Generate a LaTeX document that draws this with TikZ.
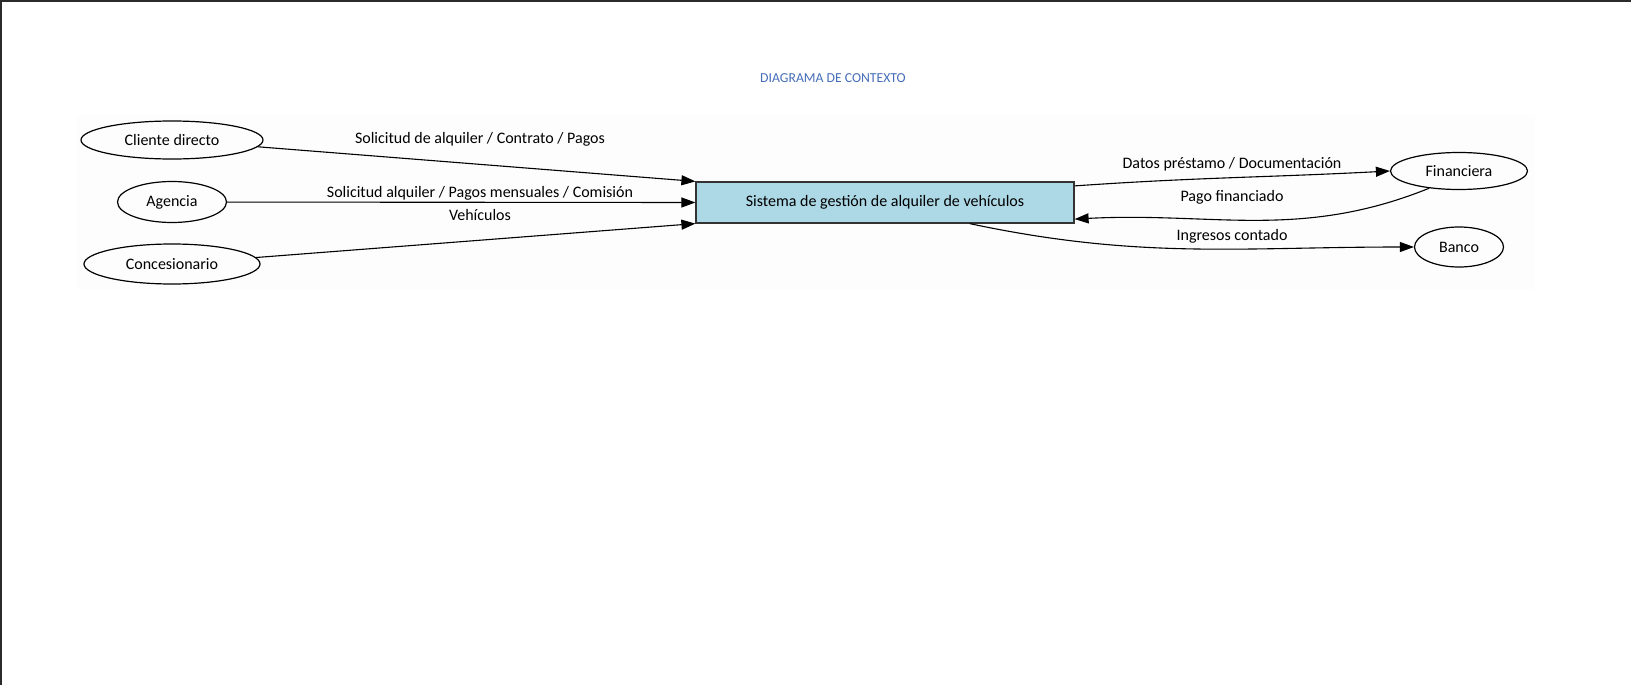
\documentclass[tikz,border=0pt]{standalone}
\usepackage{fontspec}
\setmainfont{Carlito}
\usetikzlibrary{shapes.geometric}
\usetikzlibrary{arrows.meta}

\definecolor{azultitulo}{RGB}{70,110,185}
\definecolor{azulcaja}{RGB}{173,216,230}

\begin{document}
\begin{tikzpicture}[x=1pt, y=-1pt,
    every node/.style={font=\fontsize{16}{19}\selectfont},
    entidad/.style={draw, ellipse, line width=1.2pt, inner sep=0pt},
    sistema/.style={draw=black!80, fill=azulcaja, line width=1.2pt, minimum width=378pt, minimum height=41pt},
    flujo/.style={-{Triangle[length=14pt,width=10pt]}, line width=1.1pt}]
            \useasboundingbox (0,0) rectangle (1631,685);
            % Fondo y marco
            \fill[white] (0,0) rectangle (1631,685);
            \fill[black!0.8] (77,115) rectangle (1535,289);
            \fill[black!83] (0,0) rectangle (1631,2);
            \fill[black!83] (0,0) rectangle (2,685);

            % Nodos
            \node[text=azultitulo, font=\fontsize{13.7}{16}\selectfont] (titulo) at (833,78) {DIAGRAMA DE CONTEXTO};
            \node[entidad, minimum width=182pt, minimum height=38pt] (cli) at (172,140) {Cliente directo};
            \node[entidad, minimum width=109pt, minimum height=41pt] (age) at (172,202) {Agencia};
            \node[entidad, minimum width=176pt, minimum height=40pt] (con) at (172,264) {Concesionario};
            \node[sistema] (sis) at (885,202.5) {Sistema de gestión de alquiler de vehículos};
            \node[entidad, minimum width=137pt, minimum height=37pt] (fin) at (1459,171) {Financiera};
            \node[entidad, minimum width=89pt, minimum height=40pt] (ban) at (1459,247) {Banco};

            % Etiquetas
            \node (e1) at (480,139) {Solicitud de alquiler / Contrato / Pagos};
            \node (e2) at (480,193) {Solicitud alquiler / Pagos mensuales / Comisión};
            \node (e3) at (480,215) {Vehículos};
            \node (e4) at (1232,164) {Datos préstamo / Documentación};
            \node (e5) at (1232,197) {Pago financiado};
            \node (e6) at (1232,236) {Ingresos contado};

            % Flujos
            \draw[flujo] (cli) -- (sis.north west);
            \draw[flujo] (age) -- (sis.west);
            \draw[flujo] (con) -- (sis.south west);
            \draw[flujo] (sis.5) to[out=4, in=183] (fin.west);
            \draw[flujo] (fin.-150) to[out=-158, in=3] (sis.-5.5);
            \draw[flujo] (sis.-14.4) to[out=-12, in=180] (ban.west);
          \end{tikzpicture}
\end{document}
